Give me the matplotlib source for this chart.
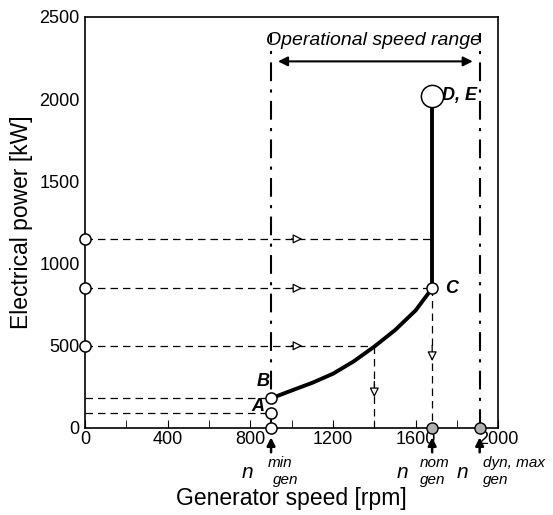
import matplotlib
matplotlib.use("Agg")
import matplotlib.pyplot as plt

plt.rcParams['font.family'] = ['Liberation Sans', 'DejaVu Sans']

# axis ticks
speed_ticks = [0, 400, 800, 1200, 1600, 2000]
speed_minor = [200, 600, 1000, 1400, 1800]
power_ticks = [0, 500, 1000, 1500, 2000, 2500]

# characteristic speeds [rpm]
n_min = 900
n_nom = 1680
n_dyn_max = 1910
n_mid = 1400

# characteristic power levels [kW]
p_A = 90
p_B = 180
p_C = 850
p_DE = 2020
p_mid = 500
p_high = 1150

# operating curve B -> C
curve_speed = [900, 1000, 1100, 1200, 1300, 1400, 1500, 1600, 1680]
curve_power = [180, 228, 275, 330, 405, 495, 595, 715, 850]

fig = plt.figure(figsize=(5.53, 5.15), dpi=100)
ax = fig.add_axes([0.154, 0.169, 0.747, 0.798])

dash = dict(color='black', lw=0.9, dashes=(6, 4))
dashdot = dict(color='black', lw=1.5, dashes=(9, 4, 1.5, 4))

# dash-dot limits of operational range
ax.plot([n_min, n_min], [0, 2400], **dashdot)
ax.plot([n_dyn_max, n_dyn_max], [0, 2400], **dashdot)

# horizontal dashed guide lines
ax.plot([0, n_nom], [p_high, p_high], **dash)
ax.plot([0, n_nom], [p_C, p_C], **dash)
ax.plot([0, n_mid], [p_mid, p_mid], **dash)
ax.plot([0, n_min], [p_B, p_B], **dash)
ax.plot([0, n_min], [p_A, p_A], **dash)
# vertical dashed guide lines
ax.plot([n_mid, n_mid], [p_mid, 0], **dash)
ax.plot([n_nom, n_nom], [p_C, 0], **dash)

# hollow arrows on guide lines
hollow = dict(arrowstyle='-|>', fc='white', ec='black', lw=0.9, mutation_scale=14)
for lvl in [p_high, p_C, p_mid]:
    ax.annotate('', xy=(1065, lvl), xytext=(985, lvl), arrowprops=hollow)
ax.annotate('', xy=(n_mid, 170), xytext=(n_mid, 300), arrowprops=hollow)
ax.annotate('', xy=(n_nom, 390), xytext=(n_nom, 520), arrowprops=hollow)

# operating curve
ax.plot(curve_speed, curve_power, color='black', lw=2.8, solid_capstyle='round')
ax.plot([n_nom, n_nom], [p_C, p_DE], color='black', lw=2.8)

# markers
mk = dict(marker='o', ms=8, mfc='white', mec='black', mew=1.1, ls='none', clip_on=False, zorder=5)
ax.plot([0, 0, 0], [p_high, p_C, p_mid], **mk)
ax.plot([n_min, n_min, n_min], [0, p_A, p_B], **mk)
ax.plot([n_nom], [p_C], **mk)
ax.plot([n_nom, n_dyn_max], [0, 0], marker='o', ms=8, mfc='#b0b0b0', mec='black',
        mew=1.0, ls='none', clip_on=False, zorder=5)
ax.plot([n_nom], [p_DE], marker='o', ms=16, mfc='white', mec='black', mew=1.1,
        ls='none', zorder=5)

# point labels
lab = dict(fontsize=13, style='italic', fontweight='bold', va='center')
ax.text(860, 280, 'B', ha='center', **lab)
ax.text(837, 130, 'A', ha='center', **lab)
ax.text(1745, p_C, 'C', ha='left', **lab)
ax.text(1730, p_DE, 'D, E', ha='left', **lab)

# operational speed range
ax.annotate('', xy=(n_min + 20, 2230), xytext=(n_dyn_max - 20, 2230),
            arrowprops=dict(arrowstyle='<|-|>', color='black', lw=1.5, mutation_scale=14))
ax.text(1395, 2355, 'Operational speed range', ha='center', va='center',
        fontsize=14, style='italic')

# speed markers below the axis
for n in [n_min, n_nom, n_dyn_max]:
    ax.annotate('', xy=(n, -40), xytext=(n, -165), annotation_clip=False,
                arrowprops=dict(arrowstyle='-|>', color='black', lw=1.8, mutation_scale=12))

sym = dict(fontsize=15, style='italic', ha='center', va='center', clip_on=False)
sub = dict(fontsize=11, style='italic', ha='left', va='center', clip_on=False)
ax.text(784, -270, 'n', **sym)
ax.text(885, -213, 'min', **sub)
ax.text(910, -316, 'gen', **sub)
ax.text(1538, -270, 'n', **sym)
ax.text(1621, -213, 'nom', **sub)
ax.text(1621, -316, 'gen', **sub)
ax.text(1829, -270, 'n', **sym)
ax.text(1925, -213, 'dyn, max', **sub)
ax.text(1925, -316, 'gen', **sub)

ax.set_xlim(0, 2000)
ax.set_ylim(0, 2500)
ax.set_xticks(speed_ticks)
ax.set_xticks(speed_minor, minor=True)
ax.set_yticks(power_ticks)
ax.tick_params(axis='x', which='both', direction='in', length=6, labelsize=13, pad=2)
ax.tick_params(axis='y', length=0, labelsize=13, pad=4)
for s in ax.spines.values():
    s.set_linewidth(1.2)

ax.text(0.5, -0.171, 'Generator speed [rpm]', transform=ax.transAxes,
        ha='center', va='center', fontsize=16.5)
ax.text(-0.153, 0.5, 'Electrical power [kW]', transform=ax.transAxes,
        ha='center', va='center', fontsize=16.5, rotation=90)

fig.savefig('out.png', dpi=100)
